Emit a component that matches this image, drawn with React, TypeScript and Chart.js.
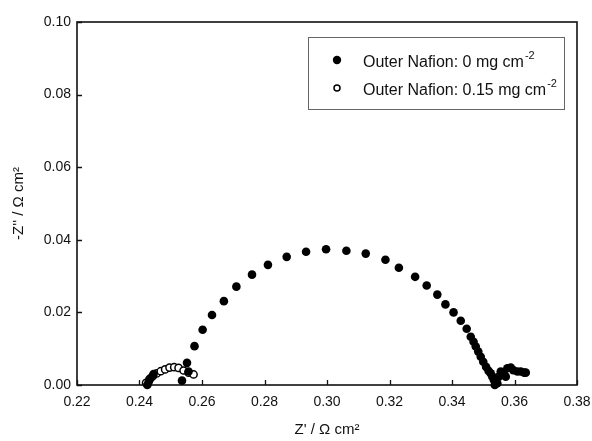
import React, { useEffect, useRef } from "react";
import { Chart, registerables } from "chart.js";

Chart.register(...registerables);

// Series 1: Outer Nafion 0 mg cm-2 (filled circles)
const filledX = [
  0.2425, 0.243, 0.2437, 0.2445, 0.2536, 0.2552, 0.2557, 0.2576, 0.2602, 0.2632,
  0.267, 0.271, 0.276, 0.2811, 0.2871, 0.2933, 0.2997, 0.3062, 0.3124, 0.3187,
  0.323, 0.3282, 0.3319, 0.3353, 0.3379, 0.3405, 0.3428, 0.3447, 0.346, 0.3469,
  0.3476, 0.3484, 0.3492, 0.35, 0.3509, 0.3517, 0.3524, 0.3529, 0.3534, 0.354,
  0.3537, 0.3545, 0.355, 0.3556, 0.3566, 0.3572, 0.3577, 0.3588, 0.3596, 0.3609,
  0.362, 0.3631, 0.3636,
];
const filledY = [
  0.0, 0.001, 0.002, 0.003, 0.0012, 0.0061, 0.0037, 0.0107, 0.0152, 0.0193,
  0.0231, 0.0271, 0.0304, 0.0331, 0.0353, 0.0367, 0.0374, 0.037, 0.0362, 0.0345,
  0.0323, 0.0298, 0.0274, 0.0249, 0.0222, 0.02, 0.0177, 0.0155, 0.0133, 0.0119,
  0.0106, 0.0092, 0.0078, 0.0064, 0.005, 0.0039, 0.0032, 0.0023, 0.0014, 0.0009,
  0.0, 0.0005, 0.0023, 0.0037, 0.0032, 0.0023, 0.0046, 0.0048, 0.0041, 0.0037,
  0.0037, 0.0034, 0.0034,
];

// Series 2: Outer Nafion 0.15 mg cm-2 (open circles)
const openX = [
  0.2421, 0.2432, 0.2443, 0.2455, 0.2468, 0.2482, 0.2496, 0.2511, 0.2525, 0.2541,
  0.2557, 0.2573,
];
const openY = [
  0.0006, 0.0016, 0.0025, 0.0032, 0.0038, 0.0043, 0.0048, 0.0049, 0.0047, 0.004,
  0.0034, 0.0029,
];

const xTicks = [0.22, 0.24, 0.26, 0.28, 0.3, 0.32, 0.34, 0.36, 0.38];
const yTicks = [0.0, 0.02, 0.04, 0.06, 0.08, 0.1];
const seriesNames = ["Outer Nafion: 0 mg cm", "Outer Nafion: 0.15 mg cm"];
const unitSup = "-2";
const xTitle = "Z' / \u03A9 cm\u00B2";
const yTitle = "-Z'' / \u03A9 cm\u00B2";

const FONT = "'Liberation Sans', Arial, Helvetica, sans-serif";

const decor = {
  id: "decor",
  beforeDraw(chart: any) {
    const { ctx, width, height } = chart;
    ctx.save();
    ctx.fillStyle = "#ffffff";
    ctx.fillRect(0, 0, width, height);
    ctx.restore();
  },
  beforeDatasetsDraw(chart: any) {
    const { ctx, chartArea: a, scales } = chart;
    const x = scales.x;
    const y = scales.y;
    ctx.save();
    ctx.strokeStyle = "#111";
    ctx.lineWidth = 1.6;
    ctx.strokeRect(a.left, a.top, a.right - a.left, a.bottom - a.top);
    ctx.lineWidth = 1.3;
    ctx.beginPath();
    xTicks.forEach((v) => {
      const px = Math.round(x.getPixelForValue(v)) + 0.5;
      ctx.moveTo(px, a.bottom);
      ctx.lineTo(px, a.bottom - 5);
    });
    yTicks.forEach((v) => {
      const py = Math.round(y.getPixelForValue(v)) + 0.5;
      ctx.moveTo(a.left, py);
      ctx.lineTo(a.left + 5, py);
    });
    ctx.stroke();
    ctx.restore();
  },
  afterDraw(chart: any) {
    const { ctx } = chart;
    ctx.save();
    // legend box
    ctx.strokeStyle = "#666";
    ctx.lineWidth = 1;
    ctx.strokeRect(308.5, 37.5, 256, 72);
    const rows = [
      { y: 66.5, filled: true },
      { y: 94.5, filled: false },
    ];
    rows.forEach((r, i) => {
      const my = r.y - 6.5;
      ctx.beginPath();
      if (r.filled) {
        ctx.arc(337, my, 4.2, 0, Math.PI * 2);
        ctx.fillStyle = "#000";
        ctx.fill();
      } else {
        ctx.arc(337, my, 3, 0, Math.PI * 2);
        ctx.fillStyle = "#fff";
        ctx.fill();
        ctx.lineWidth = 1.5;
        ctx.strokeStyle = "#000";
        ctx.stroke();
      }
      ctx.fillStyle = "#111";
      ctx.font = `16px ${FONT}`;
      ctx.textBaseline = "alphabetic";
      ctx.textAlign = "left";
      ctx.fillText(seriesNames[i], 363, r.y);
      const w = ctx.measureText(seriesNames[i]).width;
      ctx.font = `11px ${FONT}`;
      ctx.fillText(unitSup, 363 + w + 1, r.y - 8);
    });
    ctx.restore();
  },
};

export default function App() {
  const ref = useRef<HTMLCanvasElement>(null);

  useEffect(() => {
    if (!ref.current) return;
    const chart = new Chart(ref.current, {
      type: "scatter",
      data: {
        datasets: [
          {
            label: seriesNames[0],
            data: filledX.map((v, i) => ({ x: v, y: filledY[i] })),
            pointRadius: 4.3,
            pointBackgroundColor: "#000",
            pointBorderColor: "#000",
            pointBorderWidth: 0,
            showLine: false,
            clip: false,
          } as any,
          {
            label: seriesNames[1],
            data: openX.map((v, i) => ({ x: v, y: openY[i] })),
            pointRadius: 3.6,
            pointBackgroundColor: "#fff",
            pointBorderColor: "#000",
            pointBorderWidth: 1.5,
            showLine: false,
            clip: false,
          } as any,
        ],
      },
      options: {
        responsive: false,
        animation: false,
        devicePixelRatio: 1,
        layout: { padding: { top: 22, right: 15, left: 0, bottom: 0 } },
        plugins: {
          legend: { display: false },
          tooltip: { enabled: false },
        },
        scales: {
          x: {
            type: "linear",
            min: 0.22,
            max: 0.38,
            grid: { display: false, drawTicks: false },
            border: { display: false },
            afterBuildTicks: (s: any) => {
              s.ticks = xTicks.map((v) => ({ value: v }));
            },
            afterFit: (s: any) => {
              s.height = 56;
              s.paddingLeft = 0;
              s.paddingRight = 0;
            },
            ticks: {
              padding: 9,
              color: "#111",
              font: { family: FONT, size: 14 },
              maxRotation: 0,
              autoSkip: false,
              callback: (v: any) => Number(v).toFixed(2),
            },
            title: {
              display: true,
              text: xTitle,
              color: "#111",
              font: { family: FONT, size: 15 },
              padding: { top: 0, bottom: 2 },
            },
          },
          y: {
            type: "linear",
            min: 0,
            max: 0.1,
            grid: { display: false, drawTicks: false },
            border: { display: false },
            afterBuildTicks: (s: any) => {
              s.ticks = yTicks.map((v) => ({ value: v }));
            },
            afterFit: (s: any) => {
              s.width = 77;
              s.paddingTop = 0;
              s.paddingBottom = 0;
            },
            ticks: {
              padding: 6,
              color: "#111",
              font: { family: FONT, size: 14 },
              autoSkip: false,
              callback: (v: any) => Number(v).toFixed(2),
            },
            title: {
              display: true,
              text: yTitle,
              color: "#111",
              font: { family: FONT, size: 15 },
              padding: { top: 10, bottom: 0 },
            },
          },
        },
      },
      plugins: [decor],
    });
    return () => chart.destroy();
  }, []);

  return (
    <div style={{ position: "fixed", left: 0, top: 0, width: 592, height: 441, background: "#fff" }}>
      <canvas ref={ref} width={592} height={441} style={{ display: "block" }} />
    </div>
  );
}
